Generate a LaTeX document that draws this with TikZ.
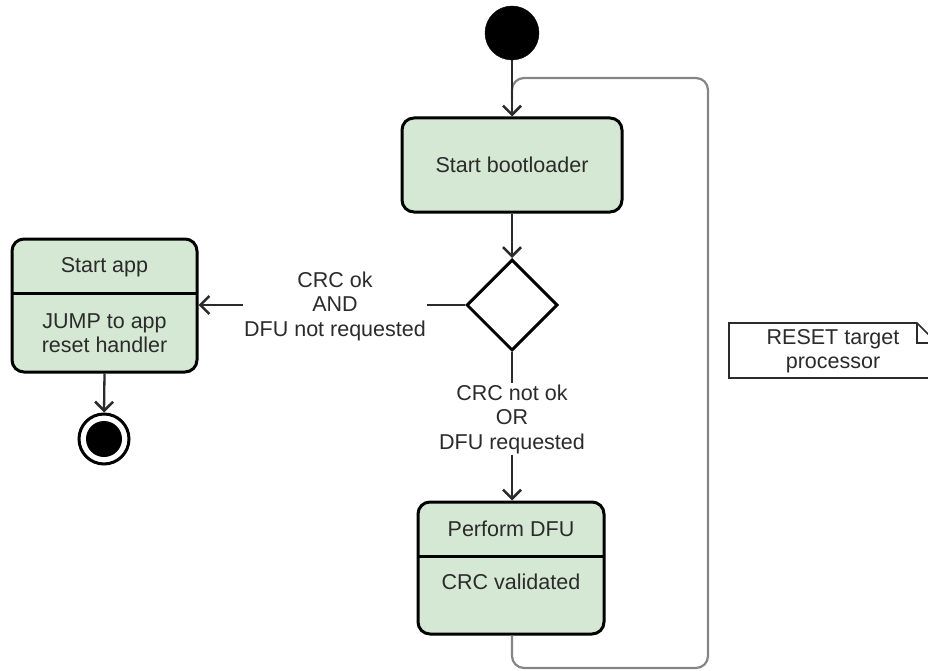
\documentclass[tikz,border=0pt]{standalone}
\usepackage{fontspec}
\setmainfont{Liberation Sans}
\usetikzlibrary{arrows.meta,shapes.geometric}
\definecolor{actfill}{HTML}{D5E8D4}
\definecolor{ink}{HTML}{2B2B2B}
\definecolor{loopgray}{HTML}{858585}
\tikzset{
  x=1pt, y=-1pt,
  every node/.style={font=\fontsize{21.5}{24.5}\selectfont, text=ink},
  act/.style={draw=black, fill=actfill, line width=3pt, rounded corners=12pt, inner sep=0pt},
  decision/.style={diamond, draw=black, line width=3pt, inner sep=0pt, minimum width=91pt, minimum height=91pt},
  flow/.style={draw=ink, line width=2.3pt, -{Straight Barb[length=9pt,width=18pt,line width=2.6pt]}},
  backloop/.style={draw=loopgray, line width=2.2pt, rounded corners=12pt},
  lbl/.style={fill=white, align=center, inner sep=1pt},
  notebox/.style={draw=ink, line width=1.6pt, fill=white}
}
\begin{document}
\begin{tikzpicture}
\useasboundingbox (0,0) rectangle (928,671);
\begin{scope}
\clip (0,0) rectangle (928,671);

% initial and final states
\node[circle, fill=black, draw=black, minimum size=54pt, inner sep=0pt] (init) at (512,33) {};
\node[circle, draw=black, line width=3pt, minimum size=50pt, inner sep=0pt] (final) at (104,439) {};
\fill[black] (final.center) circle (18);

% activities
\node[act, minimum width=220pt, minimum height=94pt] (boot) at (512,165) {Start bootloader};
\node[decision] (dec) at (512,305) {};

\node[act, minimum width=185pt, minimum height=133pt] (app) at (104.5,305.5) {};
\coordinate (appdivL) at (12,293);
\coordinate (appdivR) at (197,293);
\draw[line width=3pt] (appdivL) -- (appdivR);
\node (apptitle) at (104.5,267) {Start app};
\node[align=center] (appbody) at (104.5,333) {JUMP to app\\reset handler};

\node[act, minimum width=186pt, minimum height=132pt] (dfu) at (511,568) {};
\coordinate (dfudivL) at (418,556);
\coordinate (dfudivR) at (604,556);
\draw[line width=3pt] (dfudivL) -- (dfudivR);
\node (dfutitle) at (511,529) {Perform DFU};
\node (dfubody) at (511,582) {CRC validated};

% reset loop back to the bootloader
\coordinate (lp1) at (512,668);
\coordinate (lp2) at (708,668);
\coordinate (lp3) at (708,78);
\coordinate (lp4) at (512,78);
\coordinate (lp5) at (512,100);
\draw[backloop] (dfu.south -| lp1) -- (lp1) -- (lp2) -- (lp3) -- (lp4) -- (lp5);

% transitions
\draw[flow] (init) -- (boot);
\draw[flow] (boot) -- (dec);
\draw[flow] (dec.west) -- (app.east |- dec.west);
\draw[flow] (dec.south) -- (dfu.north -| dec.south);
\draw[flow] (app.south) -- (final.north);

\node[lbl] (lblok) at (335,306) {CRC ok\\AND\\DFU not requested};
\node[lbl] (lbldfu) at (512,419) {CRC not ok\\OR\\DFU requested};

% note
\coordinate (n1) at (729,323);
\coordinate (n2) at (917,323);
\coordinate (n3) at (937,343);
\coordinate (n4) at (937,378);
\coordinate (n5) at (729,378);
\draw[notebox] (n1) -- (n2) -- (n3) -- (n4) -- (n5) -- cycle;
\draw[draw=ink, line width=1.6pt] (n2) -- (n2 |- n3) -- (n3);
\node[align=center] (notetext) at (833,351) {RESET target\\processor};
\end{scope}
\end{tikzpicture}
\end{document}
